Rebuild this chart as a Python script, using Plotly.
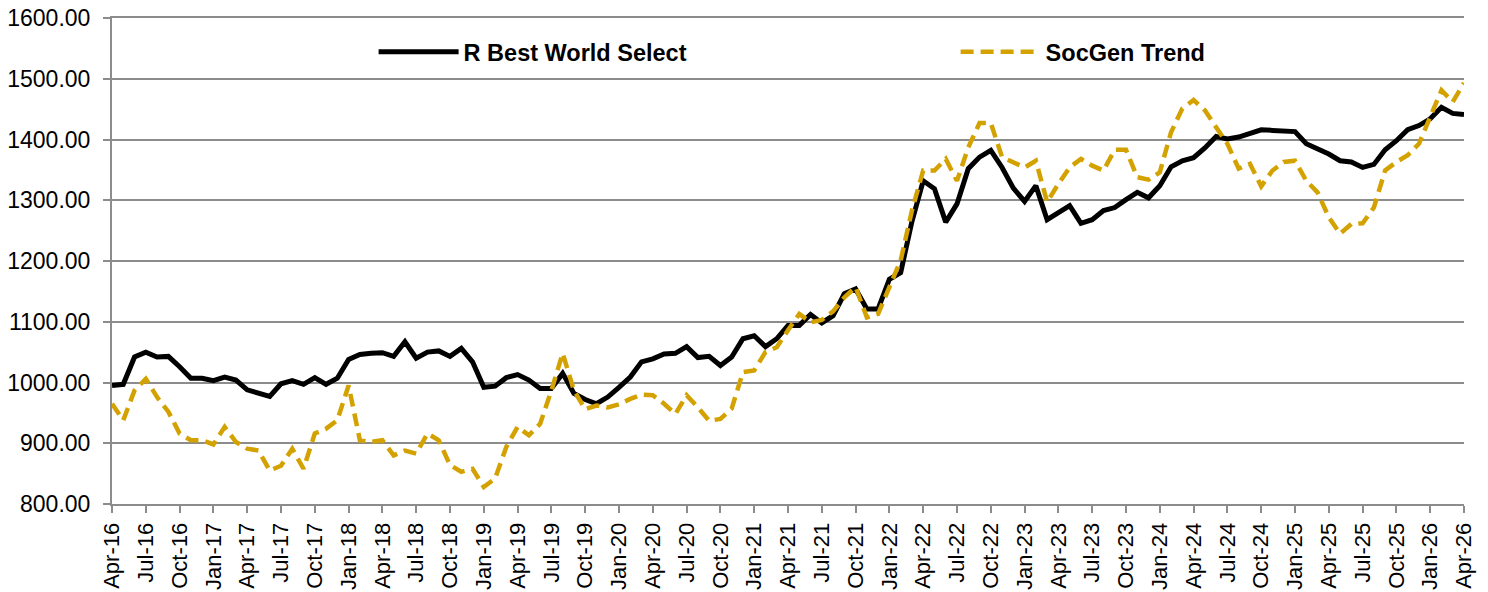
import plotly.graph_objects as go

# Monthly categories Apr-16 .. Apr-26
month_names = ["Jan", "Feb", "Mar", "Apr", "May", "Jun", "Jul", "Aug", "Sep", "Oct", "Nov", "Dec"]
months = []
y, m = 2016, 3
for _ in range(121):
    months.append(f"{month_names[m]}-{str(y)[2:]}")
    m += 1
    if m == 12:
        m = 0
        y += 1

r_best = [
    995, 997, 1042, 1050, 1042, 1043, 1026, 1007, 1007, 1003, 1009, 1004,
    988, 983, 977, 998, 1003, 997, 1008, 997, 1007, 1038, 1046, 1048,
    1049, 1043, 1067, 1040, 1050, 1052, 1043, 1056, 1034, 992, 994, 1008,
    1013, 1004, 990, 990, 1015, 982, 972, 965, 976, 992, 1009, 1034,
    1039, 1047, 1048, 1059, 1041, 1043, 1028, 1042, 1072, 1077, 1059, 1072,
    1094, 1094, 1112, 1098, 1110, 1146, 1154, 1121, 1121, 1170, 1181, 1265,
    1332, 1319, 1264, 1294, 1352, 1371, 1382, 1354, 1320, 1298, 1324, 1268,
    1280, 1291, 1262, 1268, 1283, 1288, 1301, 1313, 1304, 1324, 1355, 1365,
    1370, 1386, 1405, 1401, 1404, 1410, 1416, 1415, 1413, 1413, 1393, 1385,
    1376, 1365, 1363, 1354, 1359, 1383, 1398, 1416, 1423, 1434, 1453, 1443,
    1441,
]

socgen = [
    965, 938, 987, 1006, 976, 952, 916, 905, 905, 898, 927, 902,
    891, 888, 855, 863, 891, 858, 916, 924, 938, 995, 905, 902,
    905, 880, 888, 883, 916, 905, 864, 853, 858, 828, 842, 894,
    927, 913, 932, 987, 1048, 987, 956, 962, 959, 964, 973, 980,
    979, 965, 948, 979, 959, 937, 940, 957, 1017, 1020, 1050, 1058,
    1086, 1113, 1099, 1103, 1117, 1140, 1157, 1107, 1113, 1157, 1201, 1283,
    1349, 1349, 1368, 1332, 1387, 1427, 1427, 1371, 1363, 1354, 1365, 1297,
    1327, 1354, 1368, 1357, 1349, 1383, 1383, 1338, 1334, 1346, 1412, 1451,
    1465, 1448, 1420, 1393, 1352, 1360, 1323, 1349, 1363, 1365, 1332, 1313,
    1272, 1245, 1261, 1262, 1288, 1349, 1363, 1374, 1393, 1437, 1481, 1462,
    1493,
]

tick_labels = months[::3]

fig = go.Figure()
fig.add_trace(go.Scatter(
    x=months, y=r_best, mode="lines", name="R Best World Select",
    line=dict(color="#000000", width=5),
))
fig.add_trace(go.Scatter(
    x=months, y=socgen, mode="lines", name="SocGen Trend",
    line=dict(color="#D4A200", width=4.5, dash="13px,7px"),
))

axis_gray = "#8C8C8C"
fig.update_layout(
    width=1488, height=592,
    margin=dict(l=112, r=24, t=18, b=88, autoexpand=False),
    paper_bgcolor="white", plot_bgcolor="white",
    font=dict(family="Liberation Sans, Arial, sans-serif", size=23, color="#000000"),
    showlegend=True,
    legend=dict(
        orientation="h", x=0.1935, y=0.93, xanchor="left", yanchor="middle",
        font=dict(size=23.5, family="Liberation Sans, Arial, sans-serif", weight="bold"),
        entrywidth=487, entrywidthmode="pixels", itemwidth=80,
        bgcolor="rgba(0,0,0,0)",
    ),
    xaxis=dict(
        type="category", range=[0, 120], automargin=False,
        tickmode="array", tickvals=tick_labels, ticktext=tick_labels,
        tickangle=-90, tickfont=dict(size=22), ticklabelstandoff=1,
        ticklabeloverflow="allow",
        showgrid=False, showline=True, mirror=True, linecolor=axis_gray, linewidth=2,
        ticks="outside", ticklen=7, tickcolor=axis_gray, tickwidth=2,
    ),
    yaxis=dict(
        range=[800, 1600], dtick=100, tick0=800, tickformat=".2f", automargin=False,
        tickfont=dict(size=23), ticklabelstandoff=8, ticklabeloverflow="allow",
        showgrid=True, gridcolor=axis_gray, gridwidth=2,
        showline=True, linecolor=axis_gray, linewidth=2,
        ticks="outside", ticklen=7, tickcolor=axis_gray, tickwidth=2,
        zeroline=False,
    ),
)

# remove the browser's default 8px body margin so the figure fills the window
fig.write_html(
    "out.html",
    config={"displayModeBar": False},
    post_script="document.body.style.margin='0';",
)
